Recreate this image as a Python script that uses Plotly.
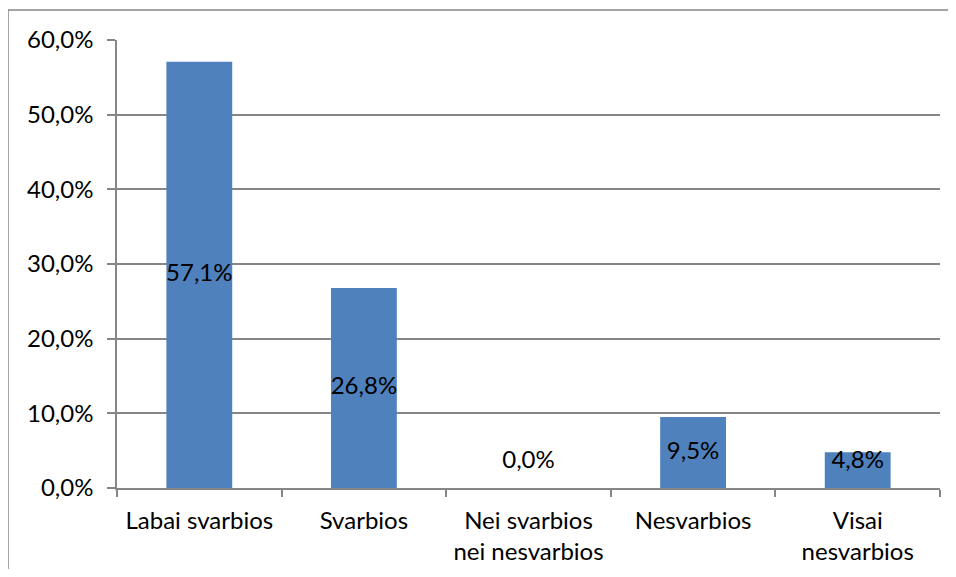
import plotly.graph_objects as go

categories = ["Labai svarbios", "Svarbios", "Nei svarbios<br>nei nesvarbios", "Nesvarbios", "Visai<br>nesvarbios"]
values = [57.1, 26.8, 0.0, 9.5, 4.8]
labels = ["57,1%", "26,8%", "0,0%", "9,5%", "4,8%"]
tick_vals = [0, 10, 20, 30, 40, 50, 60]
tick_text = ["0,0%", "10,0%", "20,0%", "30,0%", "40,0%", "50,0%", "60,0%"]

FONT = "Lato"
GRID = "#868686"
FS = 24

label_y = [max(v / 2, 3.5) for v in values]

fig = go.Figure()
fig.add_trace(go.Bar(x=categories, y=values, marker=dict(color="#4F81BD", line=dict(width=0)),
                     width=0.4, hoverinfo="skip"))
fig.add_trace(go.Scatter(x=categories, y=label_y, mode="text", text=labels,
                         textfont=dict(family=FONT, size=FS, color="black"),
                         textposition="middle center", hoverinfo="skip"))

bx0 = -109 / 823
by1 = 1 + 30 / 448
fig.update_layout(
    width=940, height=561,
    margin=dict(l=109, r=8, t=32, b=81, autoexpand=False),
    paper_bgcolor="white", plot_bgcolor="white",
    showlegend=False,
    font=dict(family=FONT, size=FS, color="black"),
    xaxis=dict(showgrid=False, showline=True, linecolor=GRID, linewidth=1.5,
               ticks="outside", ticklen=7, tickcolor=GRID, tickwidth=1.5,
               tickson="boundaries", tickfont=dict(family=FONT, size=FS),
               ticklabelstandoff=10, automargin=False),
    yaxis=dict(range=[0, 60], tickvals=tick_vals, ticktext=tick_text,
               showgrid=True, gridcolor=GRID, gridwidth=1.5,
               showline=True, linecolor=GRID, linewidth=1.5,
               ticks="outside", ticklen=8, tickcolor=GRID, tickwidth=1.5,
               tickfont=dict(family=FONT, size=FS), ticklabelstandoff=9,
               zeroline=False, automargin=False),
    shapes=[
        dict(type="line", xref="paper", yref="paper", x0=bx0, x1=1 + 8 / 823, y0=by1, y1=by1,
             line=dict(color=GRID, width=1.5), layer="below"),
        dict(type="line", xref="paper", yref="paper", x0=bx0, x1=bx0, y0=-81 / 448, y1=by1,
             line=dict(color=GRID, width=1.5), layer="below"),
    ],
)

fig.write_html("out.html")
